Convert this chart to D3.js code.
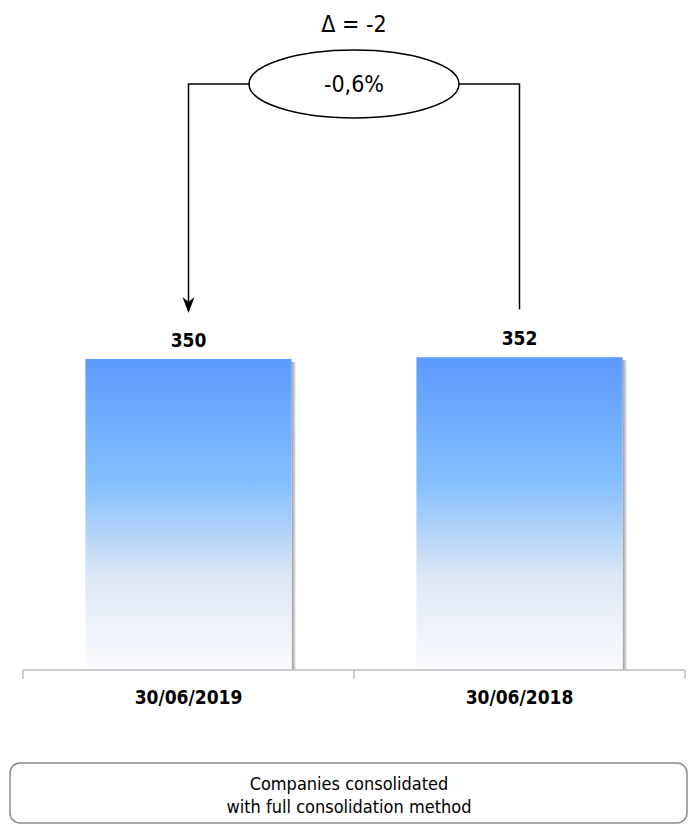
<!DOCTYPE html>
<html>
<head>
<meta charset="utf-8">
<script src="https://cdn.jsdelivr.net/npm/d3@7"></script>
<style>
  html, body { margin: 0; padding: 0; background: #fff; }
  svg { display: block; }
</style>
</head>
<body>
<div id="chart"></div>
<script>
const categories = ["30/06/2019", "30/06/2018"];
const values = [350, 352];
const deltaLabel = "\u0394 = -2";
const pctLabel = "-0,6%";
const footnoteLines = ["Companies consolidated", "with full consolidation method"];

const W = 698, H = 825;
const svg = d3.select("#chart").append("svg").attr("width", W).attr("height", H);

const defs = svg.append("defs");
const grad = defs.append("linearGradient").attr("id", "barGrad")
  .attr("x1", 0).attr("y1", 0).attr("x2", 0).attr("y2", 1);
grad.append("stop").attr("offset", "0%").attr("stop-color", "#5c9bff");
grad.append("stop").attr("offset", "40%").attr("stop-color", "#83bfff");
grad.append("stop").attr("offset", "70%").attr("stop-color", "#dde6f3");
grad.append("stop").attr("offset", "100%").attr("stop-color", "#fbfcff");

const shadowGrad = defs.append("linearGradient").attr("id", "shadowGrad")
  .attr("x1", 0).attr("y1", 0).attr("x2", 1).attr("y2", 0);
shadowGrad.append("stop").attr("offset", "0%").attr("stop-color", "#9a9a9a");
shadowGrad.append("stop").attr("offset", "100%").attr("stop-color", "#e6e6e6");

const x = d3.scaleBand().domain(categories).range([23, 685]).paddingInner(0.377).paddingOuter(0.1885);
const y = d3.scaleLinear().domain([0, 754]).range([670, 0]);

const fontReg = "'DejaVu Sans Condensed', 'DejaVu Sans', sans-serif";
const fontBold = "'DejaVu Sans Condensed', 'DejaVu Sans', sans-serif";

// shadows on right edge
svg.selectAll("rect.shadow").data(values).join("rect")
  .attr("class", "shadow")
  .attr("x", (d, i) => x(categories[i]) + x.bandwidth())
  .attr("y", d => y(d) + 3)
  .attr("width", 4)
  .attr("height", d => y(0) - y(d) - 3)
  .attr("fill", "url(#shadowGrad)");

svg.selectAll("rect.bar").data(values).join("rect")
  .attr("class", "bar")
  .attr("x", (d, i) => x(categories[i]))
  .attr("y", d => y(d))
  .attr("width", x.bandwidth())
  .attr("height", d => y(0) - y(d))
  .attr("fill", "url(#barGrad)");

// value labels
svg.selectAll("text.val").data(values).join("text")
  .attr("class", "val")
  .attr("x", (d, i) => x(categories[i]) + x.bandwidth() / 2)
  .attr("y", d => y(d) - 12)
  .attr("text-anchor", "middle")
  .attr("font-family", fontBold)
  .attr("font-weight", "bold")
  .attr("font-size", 19)
  .text(d => d);

// axis
const axisG = svg.append("g").attr("transform", `translate(0,${y(0)})`);
axisG.append("line").attr("x1", 23).attr("x2", 685).attr("y1", 0).attr("y2", 0)
  .attr("stroke", "#bdbdbd").attr("stroke-width", 1.5);
const tickPos = [23, (23 + 685) / 2, 685];
axisG.selectAll("line.tick").data(tickPos).join("line").attr("class", "tick")
  .attr("x1", d => d).attr("x2", d => d).attr("y1", 0).attr("y2", 9)
  .attr("stroke", "#bdbdbd").attr("stroke-width", 1.5);
axisG.selectAll("text.cat").data(categories).join("text").attr("class", "cat")
  .attr("x", d => x(d) + x.bandwidth() / 2)
  .attr("y", 34)
  .attr("text-anchor", "middle")
  .attr("font-family", fontBold)
  .attr("font-weight", "bold")
  .attr("font-size", 19)
  .text(d => d);

// delta connector
const xl = x(categories[0]) + x.bandwidth() / 2;
const xr = x(categories[1]) + x.bandwidth() / 2;
const cx = (xl + xr) / 2, cy = 84, rx = 105, ry = 34, lineY = 84;
svg.append("path")
  .attr("d", `M${cx - rx},${lineY} H${xl} V${y(values[0]) - 50}`)
  .attr("fill", "none").attr("stroke", "#000").attr("stroke-width", 1.5);
svg.append("path")
  .attr("d", `M${xl - 6},${y(values[0]) - 62} L${xl},${y(values[0]) - 46} L${xl + 6},${y(values[0]) - 62} L${xl},${y(values[0]) - 57} Z`)
  .attr("fill", "#000");
svg.append("path")
  .attr("d", `M${cx + rx},${lineY} H${xr} V${y(values[1]) - 48}`)
  .attr("fill", "none").attr("stroke", "#000").attr("stroke-width", 1.5);
svg.append("ellipse").attr("cx", cx).attr("cy", cy).attr("rx", rx).attr("ry", ry)
  .attr("fill", "#fff").attr("stroke", "#000").attr("stroke-width", 1.5);
svg.append("text").attr("x", cx).attr("y", cy + 8).attr("text-anchor", "middle")
  .attr("font-family", fontReg).attr("font-size", 23).text(pctLabel);
svg.append("text").attr("x", cx).attr("y", 32).attr("text-anchor", "middle")
  .attr("font-family", fontReg).attr("font-size", 23).text(deltaLabel);

// footnote box
svg.append("rect").attr("x", 10).attr("y", 763).attr("width", 677).attr("height", 60)
  .attr("rx", 10).attr("ry", 10)
  .attr("fill", "#fff").attr("stroke", "#8a8a8a").attr("stroke-width", 1.5);
svg.selectAll("text.foot").data(footnoteLines).join("text").attr("class", "foot")
  .attr("x", 349).attr("y", (d, i) => 790 + i * 23)
  .attr("text-anchor", "middle")
  .attr("font-family", fontReg).attr("font-size", 18)
  .text(d => d);
</script>
</body>
</html>
